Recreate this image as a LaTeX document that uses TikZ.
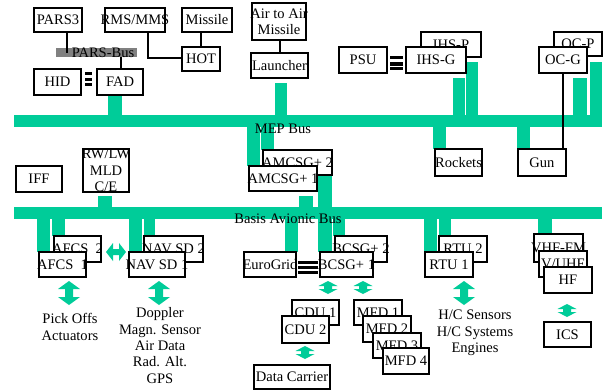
\documentclass[tikz,border=0pt]{standalone}
\usepackage{fontspec}
\setmainfont{Liberation Serif}
\definecolor{grn}{RGB}{0,204,153}
\definecolor{busgray}{RGB}{128,128,128}
\tikzset{
  box/.style={draw, line width=1.5pt, fill=white, inner sep=0pt, rectangle},
  txt/.style={inner sep=0pt, align=center, font=\fontsize{10.9}{12.2}\selectfont},
  conn/.style={draw, line width=0.9pt},
  buslabel/.style={inner sep=0pt, font=\fontsize{10.9}{12.2}\selectfont},
}
\newcommand\bx[6]{%
  \node[box, minimum width={(#4-#2)*0.75pt}, minimum height={(#5-#3)*0.75pt}] (#1) at ({(#2+#4)/2},{(#3+#5)/2}) {};
  \node[txt] (#1-t) at (#1.center) {#6};}
\newcommand\gr[4]{\fill[grn] (#1,#2) rectangle (#3,#4);}
% vertical double arrow: cx, ytop, ybot, head half width, shaft half width, head length
\newcommand\vdarr[6]{\fill[grn] (#1,#2) -- (#1+#4,#2+#6) -- (#1+#5,#2+#6) -- (#1+#5,#3-#6) -- (#1+#4,#3-#6) -- (#1,#3) -- (#1-#4,#3-#6) -- (#1-#5,#3-#6) -- (#1-#5,#2+#6) -- (#1-#4,#2+#6) -- cycle;}
\begin{document}
\begin{tikzpicture}[x=0.75pt,y=-0.75pt]
\useasboundingbox (0,0) rectangle (604,390);
% buses
\gr{14}{115}{602}{127}
\gr{14}{207}{602}{219}
% stubs above MEP
\gr{108}{95}{122}{115}
\gr{275}{83}{287}{115}
\gr{453}{78}{465}{115}
\gr{465.5}{62}{478}{115}
\gr{573}{78}{587}{115}
\gr{590}{62}{602}{115}
% stubs below MEP
\gr{247}{127}{260}{166}
\gr{261}{127}{274}{150}
\gr{433}{127}{446}{149}
\gr{517}{127}{530}{148}
% stubs to Basis bus from above
\gr{299}{196}{313}{207}
\gr{318}{176}{332}{252}
\gr{98}{196}{112}{207}
% stubs below Basis bus
\gr{37}{219}{50}{252}
\gr{51.5}{219}{65}{236}
\gr{129}{219}{142}{252}
\gr{143.5}{219}{155}{236}
\gr{285}{219}{298}{252}
\gr{333}{219}{345}{236}
\gr{424}{219}{437}{252}
\gr{438.5}{219}{451}{236}
\gr{538}{219}{552}{236}
% PARS-Bus band
\fill[busgray] (56,48) rectangle (137,57);
\node[buslabel] (parsbus) at (103,52.5) {PARS-Bus};
% boxes (back first)
\bx{pars3}{34}{8}{82}{32}{PARS3}
\bx{rms}{105}{8}{165}{32}{RMS/MMS}
\bx{missile}{182}{8}{232}{32}{Missile}
\bx{hot}{182}{47}{220}{71}{HOT}
\bx{hid}{34}{69}{81}{95}{HID}
\bx{fad}{97}{69}{143}{95}{FAD}
\bx{aam}{252}{3}{306}{40}{Air to Air\\Missile}
\bx{launcher}{251}{53}{308}{78}{Launcher}
\bx{psu}{339}{47}{387}{73}{PSU}
\bx{ihsp}{421}{32}{481}{57}{IHS-P}
\bx{ihsg}{406}{47}{466}{73}{IHS-G}
\bx{ocp}{554}{32}{602}{56}{OC-P}
\bx{ocg}{539}{47}{587}{73}{OC-G}
\bx{amcsg2}{263}{150}{332}{175}{AMCSG+ 2}
\bx{amcsg1}{249}{166}{317}{191}{AMCSG+ 1}
\bx{rockets}{435}{149}{482}{176}{Rockets}
\bx{gun}{518}{149}{566}{176}{Gun}
\bx{iff}{16}{166}{62}{192}{IFF}
\bx{rwlw}{83}{149}{129}{192}{RW/LW\\MLD\\C/E}
\bx{afcs2}{54}{236}{101}{262}{AFCS~~2}
\bx{afcs1}{39}{252}{86}{277}{AFCS~~1}
\bx{navsd2}{144}{236}{203}{262}{NAV SD 2}
\bx{navsd1}{129}{252}{185}{277}{NAV SD 1}
\bx{eurogrid}{244}{252}{296}{277}{EuroGrid}
\bx{bcsg2}{335}{236}{387}{262}{BCSG+ 2}
\bx{bcsg1}{320}{252}{373}{277}{BCSG+ 1}
\bx{rtu2}{439}{236}{487}{262}{RTU 2}
\bx{rtu1}{425}{252}{473}{277}{RTU 1}
\bx{vhffm}{534}{234}{583}{262}{VHF-FM}
\bx{vuhf}{539}{251}{587}{277}{V/UHF}
\bx{hf}{544}{267}{592}{293}{HF}
\bx{ics}{544}{322}{591}{347}{ICS}
\bx{cdu1}{292}{300}{339}{325}{CDU 1}
\bx{cdu2}{282}{316}{329}{343}{CDU 2}
\bx{datacarrier}{254}{365}{330}{388.5}{Data Carrier}
\bx{mfd1}{354}{300}{402}{325}{MFD 1}
\bx{mfd2}{363}{316}{411}{342}{MFD 2}
\bx{mfd3}{373}{333}{421}{358}{MFD 3}
\bx{mfd4}{383}{348}{429}{374}{MFD 4}
% connectors
\coordinate (parsA) at (67,52.5);
\coordinate (parsB) at (121,57);
\coordinate (rmsturn) at (148,58);
\draw[conn] (pars3.south -| parsA) -- (parsA);
\draw[conn] (parsB) -- (fad.north -| parsB);
\draw[conn] (rms.south -| rmsturn) -- (rmsturn) -- (hot.west |- rmsturn);
\draw[conn] (missile.south -| 201,0) -- (hot.north -| 201,0);
\draw[conn] (aam.south -| 280,0) -- (launcher.north -| 280,0);
\draw[conn] (ocg.south) ++(0,0) -- (gun.north -| ocg.south);
% triple bars
\fill (85,72) rectangle (92,75);
\fill (85,77.5) rectangle (92,80.5);
\fill (85,83) rectangle (92,86);
\fill (390,56) rectangle (403,59);
\fill (390,61.5) rectangle (403,65.5);
\fill (390,67) rectangle (403,70);
\fill (298,260.5) rectangle (318,263.5);
\fill (298,265.5) rectangle (318,269);
\fill (298,271) rectangle (318,274);
% bus labels
\node[buslabel] (mepbus) at (283,129) {MEP Bus};
\node[buslabel] (basisbus) at (288,219) {Basis Avionic Bus};
% green double arrows
\vdarr{69}{281}{305}{11}{4}{8}
\vdarr{159}{281}{305}{11}{4}{8}
\vdarr{464}{281}{305}{11}{4}{8}
\vdarr{328}{281}{294}{9.5}{4}{5}
\vdarr{363}{281}{294}{9.5}{4}{5}
\vdarr{305}{346}{359}{9.5}{4}{5}
\vdarr{567}{304}{317}{9.5}{4}{5}
\fill[grn] (106,252) -- (113,243) -- (113,249) -- (119,249) -- (119,243) -- (126,252) -- (119,261) -- (119,255) -- (113,255) -- (113,261) -- cycle;
% texts
\node[txt] (pickoffs) at (70,327) {Pick Offs\\Actuators};
\node[txt, font=\fontsize{10.9}{12.2}\selectfont] (navlist) at (160,345.5) {Doppler\\Magn. Sensor\\Air Data\\Rad. Alt.\\GPS};
\node[txt] (hclist) at (475,333) {H/C Sensors\\H/C Systems\\Engines};
\end{tikzpicture}
\end{document}
